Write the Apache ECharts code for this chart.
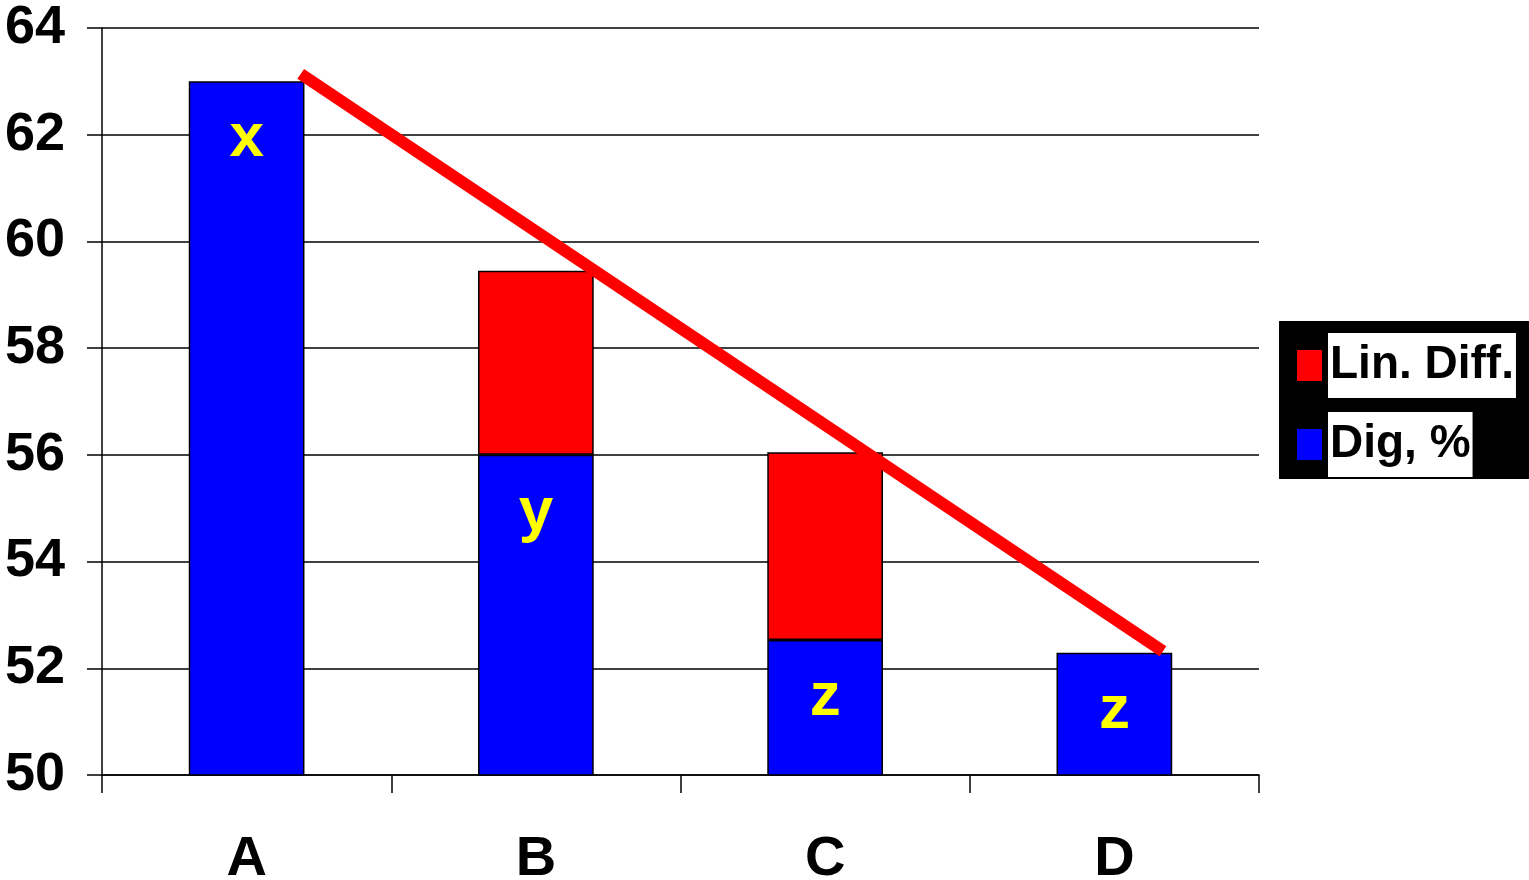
<!DOCTYPE html>
<html>
<head>
<meta charset="utf-8">
<script src="https://cdn.jsdelivr.net/npm/echarts@6/dist/echarts.min.js"></script>
<style>
  html, body { margin: 0; padding: 0; background: #fff; }
  #main { width: 1529px; height: 880px; }
</style>
</head>
<body>
<div id="main"></div>
<script>
// data
const categories = ["A", "B", "C", "D"];
const digValues = [63.0, 56.0, 52.53, 52.29];
const linDiffValues = ["-", 3.45, 3.52, "-"];
const barLabels = ["x", "y", "z", "z"];
// straight trend line, x given in category units (0..4)
const trendX = [0.687, 3.668];
const trendY = [63.14, 52.32];
const yTicks = { min: 50, max: 64, interval: 2 };

const FONT = "'Liberation Sans Narrow', 'Liberation Sans', Arial, sans-serif";

const chart = echarts.init(document.getElementById("main"), null, { renderer: "canvas" });

const option = {
  animation: false,
  backgroundColor: "#fff",
  grid: { left: 102, top: 28, right: 270, bottom: 105, outerBoundsMode: "none", containLabel: false },
  legend: {
    data: ["Lin. Diff.", "Dig, %"],
    orient: "vertical",
    left: 1279,
    top: 321,
    backgroundColor: "#000",
    padding: [12, 14, 2, 16],
    itemWidth: 27,
    itemHeight: 33,
    itemGap: 14,
    icon: "rect",
    selectedMode: false,
    textStyle: {
      fontFamily: FONT,
      fontWeight: "bold",
      fontSize: 46,
      color: "#000",
      backgroundColor: "#fff",
      lineHeight: 65,
      padding: [0, 2]
    }
  },
  xAxis: [
    {
      type: "category",
      data: categories,
      axisLine: { lineStyle: { color: "#000", width: 1.5 } },
      axisTick: { show: true, length: 18, lineStyle: { color: "#000", width: 1.5 } },
      axisLabel: {
        margin: 57,
        fontFamily: FONT,
        fontWeight: "bold",
        fontSize: 56,
        color: "#000"
      }
    },
    {
      type: "value",
      min: 0,
      max: 4,
      show: false
    }
  ],
  yAxis: {
    type: "value",
    min: yTicks.min,
    max: yTicks.max,
    interval: yTicks.interval,
    axisLine: { show: true, lineStyle: { color: "#000", width: 1.5 } },
    axisTick: { show: true, length: 15, lineStyle: { color: "#000", width: 1.5 } },
    splitLine: { lineStyle: { color: "#000", width: 1.5 } },
    axisLabel: {
      margin: 37,
      fontFamily: FONT,
      fontWeight: "bold",
      fontSize: 54,
      color: "#000"
    }
  },
  series: [
    {
      name: "Dig, %",
      type: "bar",
      stack: "s",
      barWidth: "40%",
      data: digValues,
      itemStyle: { color: "#0000ff", borderColor: "#000", borderWidth: 1.5 },
      label: {
        show: true,
        position: "insideTop",
        distance: 27,
        formatter: (p) => barLabels[p.dataIndex],
        fontFamily: "'Liberation Sans', Arial, sans-serif",
        fontWeight: "bold",
        fontSize: 62,
        color: "#ffff00"
      }
    },
    {
      name: "Lin. Diff.",
      type: "bar",
      stack: "s",
      barWidth: "40%",
      data: linDiffValues,
      itemStyle: { color: "#ff0000", borderColor: "#000", borderWidth: 1.5 }
    },
    {
      name: "trend",
      type: "line",
      xAxisIndex: 1,
      data: trendX.map((x, i) => [x, trendY[i]]),
      symbol: "none",
      lineStyle: { color: "#ff0000", width: 12, cap: "butt" },
      z: 5
    }
  ]
};

chart.setOption(option);
</script>
</body>
</html>
